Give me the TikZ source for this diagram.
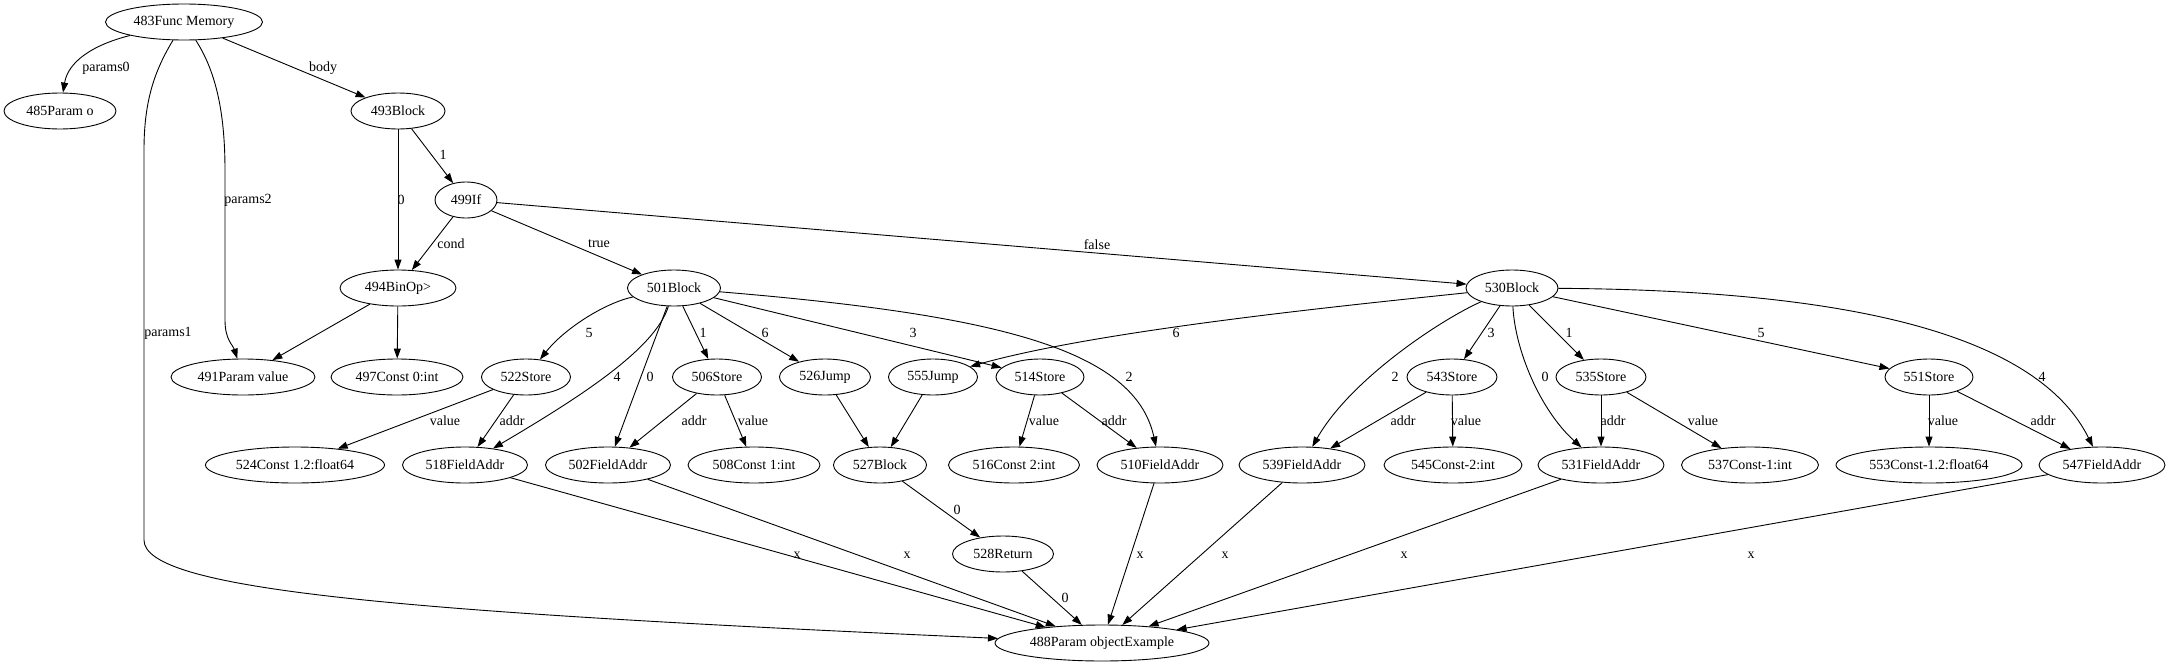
\documentclass[tikz,border=0pt]{standalone}
\usepackage{fontspec}
\setmainfont{Liberation Serif}
\usetikzlibrary{shapes.geometric,arrows.meta}
\newcommand\gvfont{\fontsize{14}{16}\selectfont}
\tikzset{
  nd/.style={draw, ellipse, line width=0.9pt, inner sep=0pt, minimum height=36pt, font=\gvfont},
  conn/.style={draw, line width=0.9pt, -{Triangle[length=10pt,width=7pt]}},
  lbl/.style={font=\gvfont, inner sep=0pt}
}
\begin{document}
\begin{tikzpicture}[x=1pt,y=-1pt]
\useasboundingbox (0,0) rectangle (2169,664);
% nodes
\node[nd,minimum width=157pt] (n483) at (184,22) {483Func Memory};
\node[nd,minimum width=112pt] (n485) at (60,111) {485Param o};
\node[nd,minimum width=94pt] (n493) at (398,111) {493Block};
\node[nd,minimum width=62pt] (n499) at (466,200) {499If};
\node[nd,minimum width=116pt] (n494) at (398,288) {494BinOp>};
\node[nd,minimum width=93pt] (n501) at (674,288) {501Block};
\node[nd,minimum width=92pt] (n530) at (1512,288) {530Block};
\node[nd,minimum width=144pt] (n491) at (243,377) {491Param value};
\node[nd,minimum width=132pt] (n497) at (397,377) {497Const 0:int};
\node[nd,minimum width=89pt] (n522) at (526,377) {522Store};
\node[nd,minimum width=89pt] (n506) at (717,377) {506Store};
\node[nd,minimum width=91pt] (n526) at (825,377) {526Jump};
\node[nd,minimum width=89pt] (n555) at (933,377) {555Jump};
\node[nd,minimum width=88pt] (n514) at (1040,377) {514Store};
\node[nd,minimum width=90pt] (n543) at (1452,377) {543Store};
\node[nd,minimum width=90pt] (n535) at (1601,377) {535Store};
\node[nd,minimum width=88pt] (n551) at (1929,377) {551Store};
\node[nd,minimum width=179pt] (n524) at (295,465) {524Const 1.2:float64};
\node[nd,minimum width=125pt] (n518) at (465,465) {518FieldAddr};
\node[nd,minimum width=125pt] (n502) at (608,465) {502FieldAddr};
\node[nd,minimum width=132pt] (n508) at (754,465) {508Const 1:int};
\node[nd,minimum width=93pt] (n527) at (880,465) {527Block};
\node[nd,minimum width=131pt] (n516) at (1014,465) {516Const 2:int};
\node[nd,minimum width=126pt] (n510) at (1160,465) {510FieldAddr};
\node[nd,minimum width=126pt] (n539) at (1302,465) {539FieldAddr};
\node[nd,minimum width=138pt] (n545) at (1453,465) {545Const-2:int};
\node[nd,minimum width=126pt] (n531) at (1601,465) {531FieldAddr};
\node[nd,minimum width=137pt] (n537) at (1750,465) {537Const-1:int};
\node[nd,minimum width=186pt] (n553) at (1929,465) {553Const-1.2:float64};
\node[nd,minimum width=126pt] (n547) at (2102,465) {547FieldAddr};
\node[nd,minimum width=101pt] (n528) at (1003,554) {528Return};
\node[nd,minimum width=214pt] (n488) at (1102,643) {488Param objectExample};
% edges
\draw[conn] (n483) .. controls (92,45) and (68,62) .. (n485);
\draw[conn] (n483) -- (n493);
\draw[conn] (n483) .. controls (215,70) and (225,110) .. (225,170) -- (225,320) .. controls (225,340) and (233,345) .. (n491);
\draw[conn] (n483) .. controls (155,70) and (144,100) .. (144,150) -- (144,540) .. controls (144,590) and (400,612) .. (n488);
\draw[conn] (n493) -- (n494);
\draw[conn] (n493) -- (n499);
\draw[conn] (n499) -- (n494);
\draw[conn] (n499) -- (n501);
\draw[conn] (n499) -- (n530);
\draw[conn] (n494) -- (n491);
\draw[conn] (n494) -- (n497);
\draw[conn] (n501) .. controls (605,303) and (565,328) .. (n522);
\draw[conn] (n501) .. controls (655,350) and (575,400) .. (n518);
\draw[conn] (n501) -- (n502);
\draw[conn] (n501) -- (n506);
\draw[conn] (n501) -- (n526);
\draw[conn] (n501) -- (n514);
\draw[conn] (n501) .. controls (1000,315) and (1135,350) .. (n510);
\draw[conn] (n522) -- (n524);
\draw[conn] (n522) -- (n518);
\draw[conn] (n506) -- (n502);
\draw[conn] (n506) -- (n508);
\draw[conn] (n526) -- (n527);
\draw[conn] (n555) -- (n527);
\draw[conn] (n514) -- (n516);
\draw[conn] (n514) -- (n510);
\draw[conn] (n527) -- (n528);
\draw[conn] (n528) -- (n488);
\draw[conn] (n518) -- (n488);
\draw[conn] (n502) -- (n488);
\draw[conn] (n510) -- (n488);
\draw[conn] (n539) -- (n488);
\draw[conn] (n531) -- (n488);
\draw[conn] (n547) -- (n488);
\draw[conn] (n530) .. controls (1350,305) and (1100,330) .. (n555);
\draw[conn] (n530) .. controls (1440,320) and (1350,380) .. (n539);
\draw[conn] (n530) -- (n543);
\draw[conn] (n530) .. controls (1515,350) and (1540,410) .. (n531);
\draw[conn] (n530) -- (n535);
\draw[conn] (n530) -- (n551);
\draw[conn] (n530) .. controls (1800,290) and (2030,320) .. (n547);
\draw[conn] (n543) -- (n539);
\draw[conn] (n543) -- (n545);
\draw[conn] (n535) -- (n531);
\draw[conn] (n535) -- (n537);
\draw[conn] (n551) -- (n553);
\draw[conn] (n551) -- (n547);
% labels
\node[lbl] (l1) at (106,68) {params0};
\node[lbl] (l2) at (323,68) {body};
\node[lbl] (l3) at (248,200) {params2};
\node[lbl] (l4) at (401,200) {0};
\node[lbl] (l5) at (443,155) {1};
\node[lbl] (l6) at (451,244) {cond};
\node[lbl] (l7) at (599,244) {true};
\node[lbl] (l8) at (1097,245) {false};
\node[lbl] (l9) at (168,333) {params1};
\node[lbl] (l10) at (589,333) {5};
\node[lbl] (l11) at (703,333) {1};
\node[lbl] (l12) at (765,333) {6};
\node[lbl] (l13) at (913,333) {3};
\node[lbl] (l14) at (1176,333) {6};
\node[lbl] (l15) at (617,377) {4};
\node[lbl] (l16) at (650,377) {0};
\node[lbl] (l17) at (1129,377) {2};
\node[lbl] (l18) at (1395,377) {2};
\node[lbl] (l19) at (1491,333) {3};
\node[lbl] (l20) at (1545,377) {0};
\node[lbl] (l21) at (1569,333) {1};
\node[lbl] (l22) at (1761,333) {5};
\node[lbl] (l23) at (2042,377) {4};
\node[lbl] (l24) at (445,421) {value};
\node[lbl] (l25) at (512,421) {addr};
\node[lbl] (l26) at (694,421) {addr};
\node[lbl] (l27) at (753,421) {value};
\node[lbl] (l28) at (1044,421) {value};
\node[lbl] (l29) at (1114,421) {addr};
\node[lbl] (l30) at (1403,421) {addr};
\node[lbl] (l31) at (1466,421) {value};
\node[lbl] (l32) at (1613,421) {addr};
\node[lbl] (l33) at (1703,421) {value};
\node[lbl] (l34) at (1943,421) {value};
\node[lbl] (l35) at (2043,421) {addr};
\node[lbl] (l36) at (957,510) {0};
\node[lbl] (l37) at (1065,598) {0};
\node[lbl] (l38) at (797,555) {x};
\node[lbl] (l39) at (907,555) {x};
\node[lbl] (l40) at (1140,555) {x};
\node[lbl] (l41) at (1225,555) {x};
\node[lbl] (l42) at (1404,555) {x};
\node[lbl] (l43) at (1751,555) {x};
\end{tikzpicture}
\end{document}
